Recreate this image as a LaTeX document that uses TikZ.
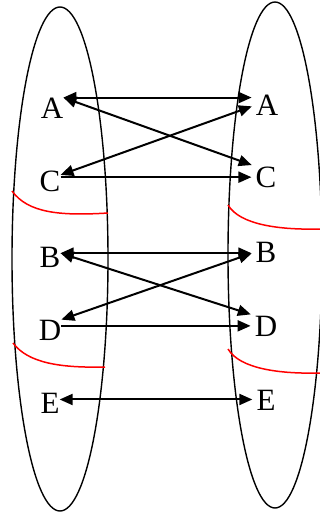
\documentclass[tikz,border=0pt]{standalone}
\usepackage{fontspec}
\setmainfont{Liberation Serif}
\usetikzlibrary{arrows.meta,calc,positioning}
\begin{document}
\begin{tikzpicture}[x=1pt,y=-1pt,
  >={Triangle[length=13pt,width=11pt]},
  letter/.style={inner sep=0pt,font=\fontsize{31}{36}\selectfont},
  link/.style={line width=2pt,shorten >=4pt},
  set/.style={line width=1.4pt},
  cut/.style={red,line width=1.5pt}]
            \useasboundingbox (0,0) rectangle (320,512);
            % Define the two sets
            \draw[set] (60,259) ellipse (48 and 252);
            \draw[set] (275,255) ellipse (47 and 253);
            % Split the sets
            \draw[cut] (12,191) .. controls (28,213) and (60,216) .. (108,213);
            \draw[cut] (13,343) .. controls (28,363) and (60,368) .. (105,367);
            \draw[cut] (228,205) .. controls (240,225) and (280,230) .. (320,229);
            \draw[cut] (228,349) .. controls (240,369) and (280,374) .. (320,373);
            % Left elements
            \node[letter] (lA) at (52,108) {A};
            \node[letter] (lC) at (50,181) {C};
            \node[letter] (lB) at (50,257) {B};
            \node[letter] (lD) at (50,330) {D};
            \node[letter] (lE) at (50,403) {E};
            % Right elements
            \node[letter] (rA) at (267,105) {A};
            \node[letter] (rC) at (266,177) {C};
            \node[letter] (rB) at (266,252) {B};
            \node[letter] (rD) at (266,326) {D};
            \node[letter] (rE) at (266,400) {E};
            % Map the elements
            \draw[link,<->] (lA.north east) -- (rA.west |- lA.north east);
            \draw[link,<->] (lA.north east) -- (rC.north west);
            \draw[link,<->] (lC.30) -- (rA.west);
            \draw[link,->] (lC.20) -- (rC.west |- lC.20);
            \draw[link,<->] (lB.20) -- (rB.west |- lB.20);
            \draw[link,<->] (lB.20) -- (rD.north west);
            \draw[link,<->] (lD.north east) -- (rB.west);
            \draw[link,->] (lD.20) -- (rD.west |- lD.20);
            \draw[link,<->] (lE.20) -- (rE.west |- lE.20);
          \end{tikzpicture}
\end{document}
